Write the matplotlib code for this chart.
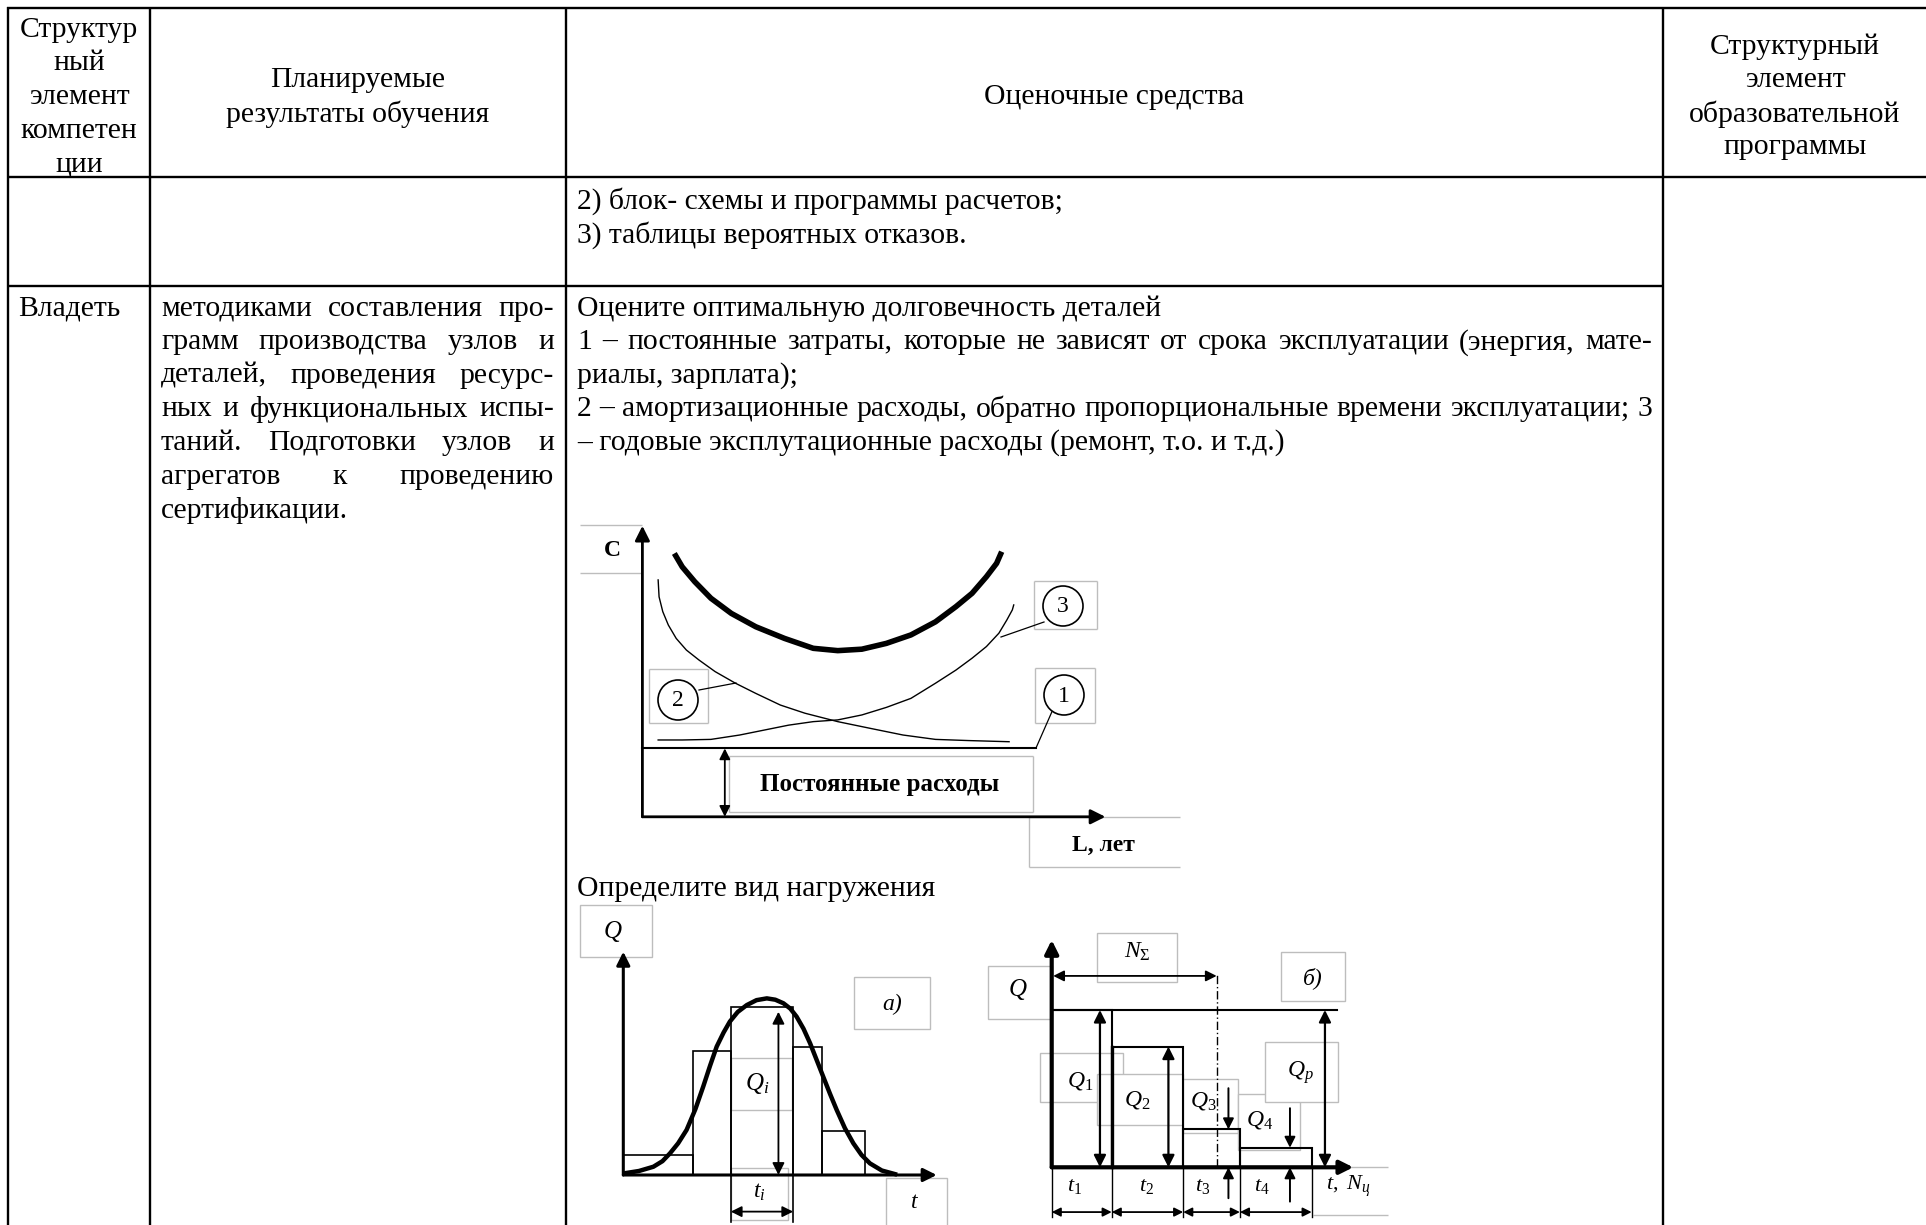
"""
plot.py - таблица оценочных средств с графиками долговечности и нагружения.
"""
import matplotlib
matplotlib.use('Agg')
import matplotlib.pyplot as plt
from matplotlib.patches import Rectangle, Circle
import numpy as np

W, H = 1926, 1225
FS = 21.3        # основной кегль таблицы
STEP = 33.6      # межстрочный интервал, px
DY = 2.5         # сдвиг текста вниз, px

plt.rcParams['font.family'] = ['Liberation Serif', 'DejaVu Serif']
plt.rcParams['mathtext.fontset'] = 'custom'
plt.rcParams['mathtext.rm'] = 'Liberation Serif'
plt.rcParams['mathtext.it'] = 'Liberation Serif:italic'
plt.rcParams['mathtext.bf'] = 'Liberation Serif:bold'

# ---- текст таблицы ----
HEAD_COMP = ['Структур', 'ный', 'элемент', 'компетен', 'ции']
HEAD_RES = ['Планируемые', 'результаты обучения']
HEAD_TOOLS = ['Оценочные средства']
HEAD_PROG = ['Структурный', 'элемент', 'образовательной', 'программы']
ROW2_TOOLS = ['2) блок- схемы и программы расчетов;', '3) таблицы вероятных отказов.']
ROW3_COMP = 'Владеть'
ROW3_RES = [
    'методиками составления про-',
    'грамм производства узлов и',
    'деталей, проведения ресурс-',
    'ных и функциональных испы-',
    'таний. Подготовки узлов и',
    'агрегатов к проведению',
    'сертификации.',
]
ROW3_TOOLS = [
    'Оцените оптимальную долговечность деталей',
    '1 – постоянные затраты, которые не зависят от срока эксплуатации (энергия, мате-',
    'риалы, зарплата);',
    '2 – амортизационные расходы, обратно пропорциональные времени эксплуатации; 3',
    '– годовые эксплутационные расходы (ремонт, т.о. и т.д.)',
]
ROW3_TOOLS_JUST = [False, True, False, True, False]
TASK2 = 'Определите вид нагружения'

# ---- график 1: затраты C от срока службы L ----
L_AMORT = [0.34, 0.36, 0.44, 0.56, 0.73, 0.95, 1.22, 1.57, 2.01, 2.45, 2.98, 3.51,
           4.22, 4.92, 5.63, 6.33, 7.04, 7.92]
C_AMORT = [8.14, 7.56, 7.05, 6.59, 6.13, 5.73, 5.39, 4.99, 4.59, 4.24, 3.84, 3.56,
           3.27, 3.04, 2.81, 2.66, 2.62, 2.58]
L_OPER = [0.34, 0.86, 1.48, 2.10, 2.63, 3.16, 3.69, 4.22, 4.74, 5.27, 5.80, 6.33,
          6.77, 7.12, 7.43, 7.70, 7.87, 7.99, 8.02]
C_OPER = [2.64, 2.64, 2.66, 2.81, 2.98, 3.15, 3.27, 3.33, 3.50, 3.76, 4.07, 4.59,
          5.04, 5.45, 5.85, 6.31, 6.76, 7.11, 7.28]
L_TOTAL = [0.69, 0.86, 1.13, 1.48, 1.92, 2.45, 3.07, 3.69, 4.22, 4.74, 5.27, 5.80,
           6.33, 6.77, 7.12, 7.43, 7.65, 7.76]
C_TOTAL = [9.05, 8.59, 8.08, 7.51, 6.99, 6.53, 6.13, 5.79, 5.71, 5.76, 5.96, 6.25,
           6.70, 7.22, 7.68, 8.25, 8.71, 9.11]
C_CONST = 2.35
L_CONST_END = 8.5
L_CONST_ARROW = 1.78

# ---- график а): гистограмма нагрузки ----
T_BAR_EDGES = [0.0, 2.23, 3.43, 5.42, 6.33, 7.71]
Q_BARS = [0.90, 5.57, 7.51, 5.75, 1.98]
T_CURVE = [0.05, 0.50, 0.96, 1.25, 1.49, 1.75, 2.02, 2.30, 2.55, 2.77, 2.98, 3.20,
           3.40, 3.65, 3.94, 4.25, 4.58, 4.85, 5.11, 5.33, 5.53, 5.75, 5.96, 6.17,
           6.38, 6.60, 6.81, 7.07, 7.34, 7.60, 7.87, 8.25, 8.67]
Q_CURVE = [0.08, 0.18, 0.37, 0.62, 0.97, 1.42, 2.02, 2.95, 3.96, 4.90, 5.75, 6.38,
           6.87, 7.30, 7.61, 7.83, 7.91, 7.85, 7.69, 7.45, 7.09, 6.55, 5.90, 5.15,
           4.40, 3.62, 2.91, 2.10, 1.42, 0.90, 0.52, 0.20, 0.04]
T_QI = 4.95

# ---- график б): ступенчатый блок нагружения ----
T_STEP_EDGES = [0.0, 1.99, 4.36, 6.24, 8.62]
Q_STEPS = [6.92, 5.31, 1.67, 0.86]
T_QP_END = 9.45
N_SIGMA = 5.47
T_Q_ARROWS = [1.60, 3.87, 5.86, 7.90]
T_QP = 9.06

fig = plt.figure(figsize=(W / 100, H / 100), dpi=100)
page = fig.add_axes([0, 0, 1, 1])
page.set_xlim(0, W)
page.set_ylim(H, 0)
page.axis('off')
renderer = fig.canvas.get_renderer()


def hline(y, x0, x1, **kw):
    page.plot([x0, x1], [y, y], color=kw.pop('color', 'k'), lw=kw.pop('lw', 1.7),
              solid_capstyle='butt', **kw)


def vline(x, y0, y1, **kw):
    page.plot([x, x], [y0, y1], color=kw.pop('color', 'k'), lw=kw.pop('lw', 1.7),
              solid_capstyle='butt', **kw)


def centered(x, yc, lines):
    y0 = yc - STEP * (len(lines) - 1) / 2 + DY
    for i, s in enumerate(lines):
        page.text(x, y0 + i * STEP, s, ha='center', va='center', fontsize=FS)


def left(x, y, s):
    page.text(x, y + DY, s, va='center', fontsize=FS)


def justified(line, x0, x1, y):
    words = line.split()
    texts = [page.text(0, y + DY, w, va='center', fontsize=FS) for w in words]
    widths = [t.get_window_extent(renderer).width for t in texts]
    gap = (x1 - x0 - sum(widths)) / max(len(words) - 1, 1)
    x = x0
    for t, w in zip(texts, widths):
        t.set_x(x)
        x += w + gap


def gray_box(x0, y0, x1, y1, sides='tblr'):
    kw = dict(color='#bdbdbd', lw=1.0)
    if 't' in sides:
        hline(y0, x0, x1, **kw)
    if 'b' in sides:
        hline(y1, x0, x1, **kw)
    if 'l' in sides:
        vline(x0, y0, y1, **kw)
    if 'r' in sides:
        vline(x1, y0, y1, **kw)


def white_box(x0, y0, x1, y1):
    page.add_patch(Rectangle((x0, y0), x1 - x0, y1 - y0, facecolor='white',
                             edgecolor='#bdbdbd', lw=1.0))


def inset(box, origin, scale):
    x0, y0, x1, y1 = box
    ox, oy = origin
    sx, sy = scale
    ax = fig.add_axes([x0 / W, 1 - y1 / H, (x1 - x0) / W, (y1 - y0) / H])
    ax.set_xlim((x0 - ox) / sx, (x1 - ox) / sx)
    ax.set_ylim((oy - y1) / sy, (oy - y0) / sy)
    ax.axis('off')
    ax.patch.set_alpha(0)
    return ax


def arrow(ax, start, end, style='-|>', lw=1.3, ms=16):
    ax.annotate('', xy=end, xytext=start,
                arrowprops=dict(arrowstyle=style, color='k', lw=lw, mutation_scale=ms,
                                shrinkA=0, shrinkB=0))


# ---- сетка таблицы ----
hline(8, 7, W)
hline(177, 7, W)
hline(286, 7, 1663)
for x in (8, 150, 566, 1663):
    vline(x, 7, H)

# ---- шапка ----
centered(79, 94.5, HEAD_COMP)
centered(358, 94.5, HEAD_RES)
centered(1114, 94.5, HEAD_TOOLS)
centered(1795, 94.5, HEAD_PROG)

# ---- строки ----
for i, s in enumerate(ROW2_TOOLS):
    left(577, 199 + i * STEP, s)

y_row3 = 306
left(18, y_row3, ROW3_COMP)
for i, s in enumerate(ROW3_RES):
    if i < len(ROW3_RES) - 1:
        justified(s, 161, 554, y_row3 + i * STEP)
    else:
        left(161, y_row3 + i * STEP, s)
for i, (s, just) in enumerate(zip(ROW3_TOOLS, ROW3_TOOLS_JUST)):
    if just:
        justified(s, 577, 1652, y_row3 + i * STEP)
    else:
        left(577, y_row3 + i * STEP, s)
left(577, 887, TASK2)

# ---- график 1: подписи и рамки ----
gray_box(580, 525, 642, 573, sides='tb')
page.text(612, 551, 'C', ha='center', va='center', fontsize=17, fontweight='bold')
for (cx, cy, num, box) in [(1063, 606, '3', (1034, 581, 1097, 629)),
                           (678, 700, '2', (649, 669, 708, 723)),
                           (1064, 695, '1', (1035, 668, 1095, 723))]:
    gray_box(*box)
    page.add_patch(Circle((cx, cy), 20, facecolor='white', edgecolor='k', lw=1.2, zorder=3))
    page.text(cx, cy + 1, num, ha='center', va='center', fontsize=17, zorder=4)
page.plot([1044, 1001], [622, 637], color='k', lw=0.9)
page.plot([699, 736], [690, 683], color='k', lw=0.9)
page.plot([1054, 1036], [707, 748], color='k', lw=0.9)
gray_box(729, 756, 1033, 812)
page.text(880, 784, 'Постоянные расходы', ha='center', va='center', fontsize=18,
          fontweight='bold')
gray_box(1029, 817, 1180, 867, sides='tbl')
page.text(1103, 845, 'L, лет', ha='center', va='center', fontsize=17, fontweight='bold')

d1 = inset((577, 515, 1182, 872), (642.4, 816.8), (46.3, 29.1))
arrow(d1, (0, 0), (0, 10), lw=2.0, ms=22)
arrow(d1, (0, 0), (10, 0), lw=2.0, ms=22)
d1.plot(L_TOTAL, C_TOTAL, color='k', lw=4.0, solid_capstyle='butt')
d1.plot(L_AMORT, C_AMORT, color='k', lw=1.0)
d1.plot(L_OPER, C_OPER, color='k', lw=1.0)
d1.plot([0, L_CONST_END], [C_CONST, C_CONST], color='k', lw=1.5)
arrow(d1, (L_CONST_ARROW, C_CONST), (L_CONST_ARROW, 0), style='<|-|>', lw=1.3, ms=16)

# ---- график а): подписи ----
white_box(580, 905, 652, 957)
page.text(613, 931, '$Q$', ha='center', va='center', fontsize=18)
white_box(854, 977, 930, 1029)
page.text(892, 1004, 'а)', ha='center', va='center', fontsize=17, style='italic')
white_box(731, 1058, 792, 1110)
page.text(757, 1083, '$Q_i$', ha='center', va='center', fontsize=18)
white_box(731, 1168, 788, 1220)
page.text(759, 1192, '$t_i$', ha='center', va='center', fontsize=17)
white_box(886, 1178, 947, 1232)
page.text(915, 1203, '$t$', ha='center', va='center', fontsize=17)

d2 = inset((577, 900, 960, 1225), (623.3, 1175), (31.34, 22.33))
d2.bar(T_BAR_EDGES[:-1], Q_BARS, width=np.diff(T_BAR_EDGES), align='edge',
       fill=False, edgecolor='k', lw=1.2)
d2.plot(T_CURVE, Q_CURVE, color='k', lw=3.2)
arrow(d2, (0, 0), (0, 10), lw=2.2, ms=20)
arrow(d2, (0, 0), (10, 0), lw=2.2, ms=20)
arrow(d2, (T_QI, 0), (T_QI, Q_BARS[2] - 0.2), style='<|-|>', lw=1.3, ms=18)
for t in T_BAR_EDGES[2:4]:
    d2.plot([t, t], [0, -2.1], color='k', lw=1.2)
arrow(d2, (T_BAR_EDGES[2], -1.64), (T_BAR_EDGES[3], -1.64), style='<|-|>', lw=1.3, ms=16)

# ---- график б): подписи ----
white_box(1040, 1053, 1123, 1102)
white_box(1097, 1074, 1183, 1125)
white_box(1183, 1079, 1238, 1133)
white_box(1238, 1094, 1300, 1150)
white_box(1265, 1042, 1338, 1102)
white_box(988, 966, 1052, 1019)
white_box(1097, 933, 1177, 982)
white_box(1281, 952, 1345, 1001)
gray_box(1313, 1167, 1388, 1215, sides='tb')
page.text(1018, 990, '$Q$', ha='center', va='center', fontsize=18)
page.text(1137, 952, r'$N_\Sigma$', ha='center', va='center', fontsize=17)
page.text(1313, 978, 'б)', ha='center', va='center', fontsize=17, style='italic')
for x, y, s in [(1080, 1081, '$Q_1$'), (1137, 1100, '$Q_2$'), (1203, 1101, '$Q_3$'),
                (1260, 1120, '$Q_4$'), (1300, 1073, '$Q_р$')]:
    page.text(x, y, s, ha='center', va='center', fontsize=17)
for x, s in [(1075, '$t_1$'), (1147, '$t_2$'), (1203, '$t_3$'), (1262, '$t_4$'),
             (1348, '$t,\\ N_ц$')]:
    page.text(x, 1186, s, ha='center', va='center', fontsize=16)

d3 = inset((980, 925, 1400, 1225), (1051.7, 1167.3), (30.16, 22.73))
d3.bar(T_STEP_EDGES[:-1], Q_STEPS, width=np.diff(T_STEP_EDGES), align='edge',
       fill=False, edgecolor='k', lw=1.5)
d3.plot([0, T_QP_END], [Q_STEPS[0], Q_STEPS[0]], color='k', lw=1.5)
d3.plot([N_SIGMA, N_SIGMA], [0, 8.54], color='k', lw=1.0, linestyle=(0, (6, 2, 1, 2)))
arrow(d3, (0.05, 8.42), (N_SIGMA, 8.42), style='<|-|>', lw=1.3, ms=16)
arrow(d3, (0, 0), (0, 10), lw=3.0, ms=20)
arrow(d3, (0, 0), (10, 0), lw=3.0, ms=20)
d3.plot([T_STEP_EDGES[1], T_STEP_EDGES[1]], [0, Q_STEPS[1]], color='k', lw=2.4)
arrow(d3, (T_Q_ARROWS[0], 0), (T_Q_ARROWS[0], Q_STEPS[0]), style='<|-|>', lw=1.6, ms=18)
arrow(d3, (T_Q_ARROWS[1], 0), (T_Q_ARROWS[1], Q_STEPS[1]), style='<|-|>', lw=1.6, ms=18)
arrow(d3, (T_Q_ARROWS[2], 3.48), (T_Q_ARROWS[2], Q_STEPS[2]), lw=1.4, ms=16)
arrow(d3, (T_Q_ARROWS[2], -1.36), (T_Q_ARROWS[2], 0), lw=1.4, ms=16)
arrow(d3, (T_Q_ARROWS[3], 2.60), (T_Q_ARROWS[3], Q_STEPS[3]), lw=1.4, ms=16)
arrow(d3, (T_Q_ARROWS[3], -1.51), (T_Q_ARROWS[3], 0), lw=1.4, ms=16)
arrow(d3, (T_QP, 0), (T_QP, Q_STEPS[0]), style='<|-|>', lw=1.6, ms=18)
for t in T_STEP_EDGES:
    d3.plot([t, t], [0, -2.17], color='k', lw=1.0)
for a, b in zip(T_STEP_EDGES[:-1], T_STEP_EDGES[1:]):
    arrow(d3, (a, -1.97), (b, -1.97), style='<|-|>', lw=1.3, ms=13)

fig.savefig('out.png', dpi=100)
plt.close(fig)
